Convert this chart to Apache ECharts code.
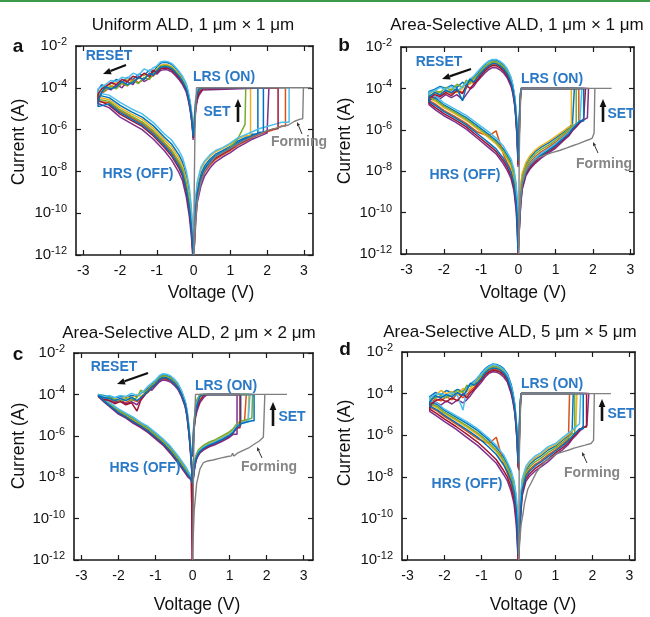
<!DOCTYPE html>
<html><head><meta charset="utf-8">
<script src="https://cdn.jsdelivr.net/npm/echarts@6/dist/echarts.min.js"></script>
<style>html,body{margin:0;padding:0;background:#fff}#c{width:650px;height:617px}</style>
</head><body><div id="c"></div>
<script>
// ---------------- DATA (voltages in V, currents as log10(I/A)) ----------------
const ticksX = [-3,-2,-1,0,1,2,3];
const compliance = -4; // log10(1e-4 A)
const palette = ['#0072BD','#D95319','#EDB120','#7E2F8E','#77AC30','#4DBEEE','#A2142F'];
const titles = ['Uniform ALD, 1 μm × 1 μm','Area-Selective ALD, 1 μm × 1 μm','Area-Selective ALD, 2 μm × 2 μm','Area-Selective ALD, 5 μm × 5 μm'];
const letters = ['a','b','c','d'];

// Panel a
const aResetV = [-0.01,-0.03,-0.06,-0.1,-0.15,-0.2,-0.3,-0.4,-0.5,-0.6,-0.7,-0.8,-0.9,-1.0,-1.1,-1.2,-1.35,-1.5,-1.65,-1.8,-1.95,-2.1,-2.25,-2.4,-2.5,-2.6];
const aReset = [
 [-6.2,-5.7,-5.15,-4.65,-4.2,-3.85,-3.5,-3.25,-3.05,-2.88,-2.8,-2.78,-2.82,-3.0,-3.25,-3.15,-3.4,-3.35,-3.6,-3.5,-3.75,-3.6,-3.8,-3.95,-3.85,-4.1],
 [-6.4,-5.9,-5.4,-4.9,-4.45,-4.1,-3.75,-3.5,-3.3,-3.13,-3.05,-3.03,-3.07,-3.25,-3.45,-3.3,-3.6,-3.75,-3.6,-3.9,-3.8,-4.0,-3.9,-4.15,-4.25,-4.5],
 [-6.3,-5.75,-5.25,-4.75,-4.3,-3.95,-3.6,-3.35,-3.15,-2.98,-2.9,-2.88,-2.92,-3.1,-3.3,-3.5,-3.35,-3.55,-3.75,-3.55,-3.85,-3.7,-3.95,-3.85,-4.05,-4.25],
 [-6.5,-6.0,-5.5,-5.0,-4.55,-4.2,-3.85,-3.6,-3.4,-3.23,-3.15,-3.13,-3.17,-3.35,-3.2,-3.55,-3.7,-3.45,-3.85,-3.7,-4.0,-3.85,-4.1,-4.0,-4.25,-4.55],
 [-6.3,-5.8,-5.3,-4.8,-4.35,-4.0,-3.65,-3.4,-3.2,-3.03,-2.95,-2.93,-2.97,-3.15,-3.35,-3.6,-3.5,-3.8,-3.65,-3.9,-3.75,-4.05,-3.95,-4.1,-4.2,-4.4],
 [-6.1,-5.6,-5.1,-4.6,-4.15,-3.8,-3.45,-3.2,-3.0,-2.83,-2.75,-2.73,-2.77,-2.95,-3.05,-3.2,-3.1,-3.4,-3.3,-3.55,-3.5,-3.7,-3.65,-3.85,-3.95,-4.05],
 [-6.4,-5.9,-5.4,-4.9,-4.45,-4.1,-3.77,-3.52,-3.32,-3.15,-3.07,-3.05,-3.09,-3.27,-3.15,-3.45,-3.3,-3.55,-3.45,-3.7,-3.6,-3.85,-3.75,-3.95,-4.05,-4.3],
 [-6.35,-5.85,-5.35,-4.85,-4.4,-4.05,-3.7,-3.45,-3.25,-3.08,-3.0,-2.98,-3.02,-3.2,-3.4,-3.3,-3.6,-3.5,-3.75,-3.85,-3.7,-3.95,-4.05,-3.95,-4.2,-4.65]
];
const aHrsV = [-2.6,-2.3,-2.0,-1.7,-1.4,-1.1,-0.8,-0.6,-0.4,-0.3,-0.2,-0.12,-0.06,-0.03,-0.01];
const aHrs = [
 [-4.35,-4.47,-4.84,-5.14,-5.4,-5.81,-6.36,-6.69,-7.21,-7.57,-8.2,-8.98,-9.98,-10.94,-12],
 [-4.65,-4.71,-5.12,-5.42,-5.7,-6.13,-6.68,-7.07,-7.63,-8.01,-8.7,-9.54,-10.54,-11.42,-12],
 [-4.45,-4.56,-4.95,-5.25,-5.51,-5.93,-6.48,-6.83,-7.37,-7.74,-8.39,-9.19,-10.19,-11.12,-12],
 [-4.75,-4.95,-5.4,-5.7,-6.0,-6.45,-7.0,-7.45,-8.05,-8.45,-9.2,-10.1,-11.1,-11.9,-12],
 [-4.55,-4.65,-5.05,-5.35,-5.63,-6.05,-6.6,-6.98,-7.53,-7.9,-8.58,-9.4,-10.4,-11.3,-12],
 [-4.25,-4.35,-4.7,-5.0,-5.25,-5.65,-6.2,-6.5,-7.0,-7.35,-7.95,-8.7,-9.7,-10.7,-12],
 [-4.6,-4.83,-5.26,-5.56,-5.85,-6.29,-6.84,-7.26,-7.84,-8.23,-8.95,-9.82,-10.82,-11.66,-12],
 [-4.9,-4.77,-5.19,-5.49,-5.78,-6.21,-6.76,-7.17,-7.74,-8.12,-8.83,-9.68,-10.68,-11.54,-12]
];
const aSetV = [0.01,0.03,0.06,0.1,0.2,0.3,0.45,0.6,0.8,1.0,1.2,1.4,1.6,1.8,2.0,2.2,2.4];
const aSet = [
 [-12,-10.48,-9.59,-8.83,-8.1,-7.74,-7.41,-7.18,-7.0,-6.8,-6.55,-6.39,-6.22],
 [-12,-11.12,-10.11,-9.27,-8.5,-8.06,-7.69,-7.42,-7.2,-7.0,-6.75,-6.57,-6.38,-6.23,-6.1,-6.0,-5.83],
 [-12,-10.16,-9.33,-8.61,-7.9,-7.58,-7.27,-7.06,-6.9,-6.7,-6.45,-6.3],
 [-12,-11.44,-10.37,-9.49,-8.7,-8.22,-7.83,-7.54,-7.3,-7.1,-6.85,-6.66,-6.46,-6.31,-6.17],
 [-12,-10.8,-9.85,-9.05,-8.3,-7.9,-7.55,-7.3,-7.1,-6.85,-6.45,-5.75],
 [-12,-10.0,-9.2,-8.5,-7.8,-7.5,-7.2,-7.0,-6.85,-6.65,-6.4,-6.25,-6.1,-5.95,-5.85,-5.75,-5.65],
 [-12,-10.96,-9.98,-9.16,-8.4,-7.98,-7.62,-7.36,-7.15,-6.95,-6.7,-6.52,-6.34,-6.19,-6.06,-5.96],
 [-12,-10.72,-9.79,-9.0,-8.25,-7.86,-7.52,-7.27,-7.08,-6.88,-6.63,-6.45,-6.28,-6.13]
];
const aVset = [1.75,2.5,1.55,2.05,1.42,2.6,2.3,1.9];
const aLrsV = [0.25,0.15,0.1,0.06,0.03,0.01];
const aLrs = [
 [-4.0,-4.0,-4.2,-4.65,-5.3,-6.2],[-4.0,-4.15,-4.45,-4.9,-5.5,-6.3],[-4.0,-4.0,-4.05,-4.45,-5.15,-6.1],[-4.1,-4.35,-4.6,-5.0,-5.6,-6.4],
 [-4.0,-4.1,-4.35,-4.8,-5.4,-6.25],[-4.0,-4.0,-4.1,-4.55,-5.2,-6.15],[-4.05,-4.25,-4.5,-4.95,-5.55,-6.35],[-4.0,-4.05,-4.3,-4.7,-5.35,-6.2]
];
const aFormV = [0.01,0.03,0.06,0.1,0.2,0.3,0.45,0.6,0.8,1.0,1.2,1.4,1.6,1.8,2.0,2.2,2.4,2.58,2.75,2.9,2.97,2.99,3.2,0.08,0.04,0.02,0.005];
const aFormI = [-12,-11.2,-10.3,-9.4,-8.5,-8.0,-7.6,-7.3,-7.1,-6.9,-6.7,-6.5,-6.35,-6.2,-6.05,-5.95,-5.85,-5.78,-5.6,-5.5,-5.48,-4.0,-4.0,-4.0,-5.8,-8.5,-12];

// Panel b
const bResetV = [-0.01,-0.02,-0.04,-0.07,-0.1,-0.15,-0.2,-0.3,-0.4,-0.5,-0.6,-0.7,-0.8,-0.9,-1.0,-1.1,-1.2,-1.3,-1.4,-1.5,-1.65,-1.8,-1.95,-2.1,-2.25,-2.4];
const bReset = [
 [-7.2,-6.6,-5.7,-4.95,-4.4,-3.85,-3.5,-3.1,-2.87,-2.72,-2.63,-2.62,-2.7,-2.85,-3.05,-3.3,-3.45,-3.6,-3.85,-3.7,-3.95,-3.85,-4.0,-3.9,-4.05,-4.15],
 [-7.6,-7.0,-6.1,-5.3,-4.7,-4.1,-3.75,-3.35,-3.1,-2.95,-2.85,-2.85,-2.95,-3.1,-3.3,-3.55,-3.75,-3.65,-4.0,-4.2,-4.05,-4.25,-4.1,-4.35,-4.2,-4.45],
 [-7.5,-6.9,-6.0,-5.2,-4.6,-4.0,-3.65,-3.25,-3.0,-2.85,-2.76,-2.76,-2.85,-3.0,-3.2,-3.4,-3.6,-3.8,-3.7,-4.0,-4.2,-4.0,-4.3,-4.15,-4.25,-4.35],
 [-7.8,-7.2,-6.3,-5.45,-4.85,-4.25,-3.9,-3.5,-3.25,-3.1,-3.0,-3.0,-3.1,-3.25,-3.45,-3.65,-3.9,-4.05,-4.3,-4.55,-4.3,-4.45,-4.3,-4.5,-4.4,-4.6],
 [-7.4,-6.8,-5.9,-5.15,-4.55,-3.95,-3.6,-3.2,-2.95,-2.8,-2.71,-2.7,-2.8,-2.95,-3.15,-3.35,-3.5,-3.75,-3.6,-3.95,-3.8,-4.1,-3.95,-4.2,-4.1,-4.25],
 [-7.3,-6.7,-5.8,-5.0,-4.45,-3.85,-3.45,-3.05,-2.82,-2.68,-2.6,-2.6,-2.68,-2.82,-3.0,-3.2,-3.4,-3.55,-3.75,-3.9,-4.15,-3.9,-4.05,-3.95,-4.1,-4.2],
 [-7.7,-7.1,-6.2,-5.35,-4.75,-4.15,-3.8,-3.4,-3.15,-3.0,-2.9,-2.9,-3.0,-3.15,-3.35,-3.6,-3.8,-4.0,-3.85,-4.25,-4.1,-4.35,-4.2,-4.4,-4.3,-4.5],
 [-7.5,-6.95,-6.05,-5.25,-4.65,-4.05,-3.7,-3.3,-3.05,-2.9,-2.8,-2.8,-2.9,-3.05,-3.25,-3.45,-3.7,-3.55,-3.9,-4.6,-4.0,-4.2,-4.1,-4.3,-4.2,-4.4]
];
const bHrsV = [-2.4,-2.2,-2.0,-1.7,-1.4,-1.1,-0.8,-0.6,-0.4,-0.3,-0.2,-0.12,-0.06,-0.03,-0.01];
const bHrs = [
 [-4.38,-4.51,-4.8,-5.1,-5.41,-5.81,-6.22,-6.52,-6.94,-7.24,-7.55,-8.07,-8.81,-9.73,-11.6],
 [-4.58,-4.79,-5.06,-5.36,-5.69,-6.11,-6.3,-6.05,-7.2,-7.6,-7.95,-8.5,-9.37,-10.33,-11.8],
 [-4.48,-4.65,-4.93,-5.23,-5.55,-5.96,-6.38,-6.68,-7.12,-7.42,-7.75,-8.29,-9.09,-10.03,-11.7],
 [-4.78,-5.07,-5.32,-5.62,-5.97,-6.41,-6.86,-7.16,-7.66,-7.96,-8.35,-8.95,-9.93,-10.93,-12],
 [-4.43,-4.58,-4.86,-5.16,-5.48,-5.89,-6.3,-6.6,-7.03,-7.33,-7.65,-8.18,-8.95,-9.88,-11.6],
 [-4.3,-4.4,-4.7,-5.0,-5.3,-5.7,-6.1,-6.4,-6.8,-7.1,-7.4,-7.9,-8.6,-9.5,-11.5],
 [-4.7,-4.96,-5.22,-5.52,-5.86,-6.3,-6.74,-7.04,-7.52,-7.82,-8.2,-8.78,-9.72,-10.7,-12],
 [-4.63,-4.86,-5.12,-5.42,-5.76,-6.19,-6.62,-6.92,-7.39,-7.69,-8.05,-8.62,-9.51,-10.48,-11.9]
];
const bSetV = [0.01,0.03,0.06,0.1,0.2,0.3,0.45,0.6,0.8,1.0,1.2,1.35,1.45,1.55,1.65,1.75,1.85];
const bSet = [
 [-11.6,-9.76,-8.84,-8.2,-7.66,-7.36,-7.06,-6.85,-6.64,-6.39,-6.12,-5.91,-5.7],
 [-11.8,-10.15,-9.2,-8.5,-7.9,-7.6,-7.3,-7.08,-6.85,-6.6,-6.3,-6.08,-5.85,-5.68],
 [-11.5,-9.63,-8.72,-8.1,-7.58,-7.28,-6.98,-6.78,-6.57,-6.32,-6.06,-5.86],
 [-12,-10.67,-9.68,-8.9,-8.22,-7.92,-7.62,-7.38,-7.13,-6.88,-6.54,-6.3,-6.05,-5.86,-5.66,-5.52,-5.42],
 [-11.7,-9.96,-9.02,-8.35,-7.78,-7.48,-7.18,-6.96,-6.75,-6.5,-6.21,-5.99,-5.78],
 [-11.8,-10.28,-9.32,-8.6,-7.98,-7.68,-7.38,-7.15,-6.92,-6.67,-6.36,-6.13,-5.9,-5.72,-5.54],
 [-12,-10.54,-9.56,-8.8,-8.14,-7.84,-7.54,-7.3,-7.06,-6.81,-6.48,-6.24,-6.0,-5.81,-5.62,-5.48],
 [-11.9,-10.41,-9.44,-8.7,-8.06,-7.76,-7.46,-7.23,-6.99,-6.74,-6.42,-6.19,-5.95,-5.77,-5.58]
];
const bVset = [1.5,1.62,1.42,1.88,1.55,1.7,1.8,1.75];
const bLrsV = [0.07,0.05,0.03,0.02,0.01];
const bLrs = [
 [-4.0,-4.4,-5.2,-6.0,-7.0],[-4.0,-4.5,-5.4,-6.3,-7.4],[-4.0,-4.6,-5.6,-6.6,-7.6],[-4.0,-4.5,-5.5,-6.4,-7.5],
 [-4.0,-4.4,-5.3,-6.2,-7.2],[-4.0,-4.3,-5.1,-5.9,-6.9],[-4.0,-4.6,-5.5,-6.5,-7.7],[-4.0,-4.5,-5.4,-6.3,-7.3]
];
const bFormV = [0.01,0.03,0.06,0.1,0.2,0.3,0.45,0.6,0.75,0.9,1.1,1.3,1.45,1.6,1.75,1.9,1.98,2.03,2.05,2.5,0.07,0.04,0.02,0.005];
const bFormI = [-12,-10.3,-9.3,-8.6,-8.0,-7.7,-7.45,-7.3,-7.2,-7.1,-7.0,-6.87,-6.77,-6.68,-6.57,-6.47,-6.4,-6.15,-4.0,-4.0,-4.0,-5.5,-7.5,-12];

// Panel c
const cResetV = [-0.01,-0.02,-0.04,-0.07,-0.1,-0.15,-0.2,-0.3,-0.4,-0.5,-0.6,-0.7,-0.8,-0.9,-1.0,-1.1,-1.2,-1.3,-1.4,-1.5,-1.65,-1.8,-1.95,-2.1,-2.25,-2.4,-2.55];
const cReset = [
 [-7.9,-7.5,-6.9,-6.2,-5.6,-4.8,-4.35,-3.85,-3.5,-3.3,-3.15,-3.08,-3.05,-3.15,-3.35,-3.5,-3.7,-3.85,-3.95,-4.1,-4.05,-4.15,-4.1,-4.2,-4.1,-4.05,-4.0],
 [-8.1,-7.7,-7.1,-6.4,-5.8,-5.0,-4.55,-4.05,-3.7,-3.5,-3.35,-3.28,-3.25,-3.35,-3.55,-3.7,-3.9,-4.0,-4.2,-4.35,-4.25,-4.4,-4.3,-4.35,-4.25,-4.15,-4.05],
 [-8.0,-7.6,-7.0,-6.3,-5.7,-4.9,-4.45,-3.95,-3.6,-3.4,-3.25,-3.18,-3.15,-3.25,-3.45,-3.6,-3.8,-3.95,-4.1,-4.0,-4.2,-4.1,-4.3,-4.2,-4.25,-4.1,-4.02],
 [-8.2,-7.8,-7.2,-6.5,-5.9,-5.1,-4.6,-4.1,-3.75,-3.55,-3.4,-3.33,-3.3,-3.4,-3.6,-3.8,-3.7,-4.05,-4.25,-4.5,-4.35,-4.45,-4.3,-4.4,-4.3,-4.2,-4.08],
 [-7.9,-7.5,-6.95,-6.25,-5.65,-4.85,-4.4,-3.9,-3.55,-3.35,-3.2,-3.12,-3.1,-3.2,-3.4,-3.55,-3.75,-3.9,-3.8,-4.15,-4.3,-4.2,-4.35,-4.25,-4.15,-4.1,-4.02],
 [-7.8,-7.4,-6.8,-6.1,-5.5,-4.75,-4.3,-3.8,-3.45,-3.25,-3.1,-3.03,-3.0,-3.1,-3.3,-3.45,-3.6,-3.8,-3.95,-4.05,-3.95,-4.1,-4.05,-4.15,-4.05,-4.1,-4.0],
 [-8.1,-7.7,-7.1,-6.4,-5.8,-5.0,-4.5,-4.0,-3.65,-3.45,-3.3,-3.23,-3.2,-3.3,-3.5,-3.65,-3.85,-4.05,-4.3,-4.8,-4.4,-4.5,-4.35,-4.45,-4.3,-4.25,-4.1],
 [-8.0,-7.6,-7.0,-6.35,-5.75,-4.95,-4.5,-4.0,-3.65,-3.45,-3.3,-3.2,-3.18,-3.28,-3.5,-3.65,-3.85,-4.0,-4.15,-4.3,-4.15,-4.3,-4.2,-4.3,-4.2,-4.15,-4.05]
];
const cHrsV = [-2.55,-2.4,-2.2,-2.0,-1.8,-1.6,-1.4,-1.2,-1.0,-0.8,-0.6,-0.4,-0.3,-0.2,-0.12,-0.06,-0.03,-0.005];
const cHrs = [
 [-4.02,-4.23,-4.49,-4.75,-4.95,-5.16,-5.4,-5.61,-5.91,-6.21,-6.57,-7.02,-7.27,-7.52,-7.76,-7.94,-8.04,-8.3],
 [-4.06,-4.29,-4.57,-4.85,-5.05,-5.28,-5.5,-5.73,-6.03,-6.33,-6.71,-7.16,-7.41,-7.66,-7.88,-8.02,-8.12,-12],
 [-4.04,-4.26,-4.53,-4.8,-5.0,-5.22,-5.45,-5.67,-5.97,-6.27,-6.64,-7.09,-7.34,-7.59,-7.82,-7.98,-8.08,-8.3],
 [-4.1,-4.35,-4.65,-4.95,-5.15,-5.4,-5.6,-5.85,-6.15,-6.45,-6.85,-7.3,-7.55,-7.8,-8.0,-8.1,-8.2,-12],
 [-4.03,-4.25,-4.51,-4.78,-4.98,-5.19,-5.43,-5.64,-5.94,-6.24,-6.61,-7.06,-7.31,-7.56,-7.79,-7.96,-8.06,-8.3],
 [-4.0,-4.2,-4.45,-4.7,-4.9,-5.1,-5.35,-5.55,-5.85,-6.15,-6.5,-6.95,-7.2,-7.45,-7.7,-7.9,-8.0,-8.25],
 [-4.08,-4.32,-4.61,-4.9,-5.1,-5.34,-5.55,-5.79,-6.09,-6.39,-6.78,-7.23,-7.48,-7.73,-7.94,-8.06,-8.16,-12],
 [-4.07,-4.31,-4.59,-4.88,-5.08,-5.31,-5.53,-5.76,-6.06,-6.36,-6.75,-7.2,-7.45,-7.7,-7.91,-8.04,-8.14,-8.3]
];
const cSetV = [0.005,0.02,0.04,0.07,0.1,0.15,0.2,0.3,0.45,0.6,0.8,1.0,1.1,1.2,1.3,1.4,1.5,1.6];
const cSet = [
 [-8.2,-7.93,-7.59,-7.2,-6.99,-6.79,-6.68,-6.53,-6.38,-6.28,-6.09,-5.89,-5.74,-5.49],
 [-8.2,-7.98,-7.65,-7.28,-7.05,-6.85,-6.73,-6.58,-6.43,-6.33,-6.15,-5.95,-5.8,-5.55,-5.4,-5.35],
 [-8.2,-7.9,-7.56,-7.17,-6.96,-6.76,-6.65,-6.5,-6.35,-6.25,-6.06,-5.86,-5.71,-5.46,-5.34,-5.29,-5.24],
 [-8.2,-8.08,-7.77,-7.42,-7.17,-6.97,-6.83,-6.68,-6.53,-6.43,-6.27,-6.07,-5.92],
 [-8.2,-7.85,-7.5,-7.1,-6.9,-6.7,-6.6,-6.45,-6.3,-6.2,-6.0,-5.8,-5.65,-5.4,-5.3,-5.25,-5.2,-5.15],
 [-8.2,-7.95,-7.62,-7.24,-7.02,-6.82,-6.7,-6.55,-6.4,-6.3,-6.12,-5.92,-5.77,-5.52,-5.38,-5.33,-5.28],
 [-8.2,-8.03,-7.71,-7.35,-7.11,-6.91,-6.78,-6.63,-6.48,-6.38,-6.21,-6.01,-5.86,-5.61],
 [-8.2,-8.0,-7.68,-7.31,-7.08,-6.88,-6.75,-6.6,-6.45,-6.35,-6.18,-5.98,-5.83,-5.58,-5.42,-5.37,-5.32,-5.27]
];
const cVset = [1.3,1.45,1.52,1.2,1.62,1.55,1.28,1.66];
const cLrsV = [0.4,0.3,0.2,0.12,0.07,0.03,0.01];
const cLrs = [
 [-4.0,-4.0,-4.1,-4.45,-4.95,-5.7,-6.9],[-4.0,-4.0,-4.0,-4.3,-4.8,-5.6,-6.8],[-4.0,-4.0,-4.2,-4.55,-5.05,-5.8,-7.0],[-4.0,-4.15,-4.4,-4.8,-5.2,-5.9,-7.0],
 [-4.0,-4.0,-4.0,-4.25,-4.75,-5.55,-6.8],[-4.0,-4.0,-4.05,-4.4,-4.9,-5.65,-6.9],[-4.0,-4.05,-4.3,-4.65,-5.1,-5.85,-7.0],[-4.0,-4.0,-4.1,-4.5,-5.0,-5.75,-6.95]
];
const cFormV = [0.005,0.045,0.11,0.2,0.29,0.4,0.55,0.75,0.95,1.05,1.08,1.12,1.2,1.35,1.5,1.65,1.8,1.91,1.95,2.55,0.08,0.04,0.02,0.005];
const cFormI = [-11.5,-9.6,-8.3,-7.6,-7.3,-7.22,-7.17,-7.08,-7.0,-6.97,-6.85,-6.98,-6.85,-6.72,-6.6,-6.42,-6.25,-6.07,-4.0,-4.0,-4.0,-5.8,-8.5,-12];

// Panel d
const dResetV = [-0.01,-0.02,-0.04,-0.07,-0.1,-0.15,-0.2,-0.3,-0.4,-0.5,-0.6,-0.7,-0.8,-0.9,-1.0,-1.1,-1.2,-1.3,-1.4,-1.5,-1.65,-1.8,-1.95,-2.1,-2.25,-2.4];
const dReset = [
 [-7.1,-6.6,-5.8,-5.1,-4.5,-3.95,-3.55,-3.05,-2.8,-2.67,-2.6,-2.58,-2.67,-2.8,-3.0,-3.25,-3.4,-3.55,-3.7,-3.9,-3.8,-3.95,-3.85,-4.05,-3.95,-4.15],
 [-7.4,-6.9,-6.1,-5.4,-4.8,-4.25,-3.85,-3.3,-3.05,-2.92,-2.85,-2.83,-2.92,-3.05,-3.3,-3.5,-3.7,-3.85,-4.05,-4.2,-4.0,-4.3,-4.15,-4.35,-4.25,-4.5],
 [-7.3,-6.8,-6.0,-5.3,-4.7,-4.15,-3.75,-3.2,-2.95,-2.8,-2.73,-2.72,-2.8,-2.95,-3.2,-3.35,-3.55,-3.75,-3.9,-3.75,-4.05,-3.9,-4.0,-3.85,-4.1,-4.3],
 [-7.6,-7.1,-6.3,-5.55,-4.95,-4.4,-4.0,-3.45,-3.2,-3.05,-2.97,-2.95,-3.03,-3.2,-3.45,-3.65,-3.85,-4.1,-4.3,-4.45,-4.3,-4.5,-4.35,-4.55,-4.4,-4.65],
 [-7.25,-6.75,-5.95,-5.25,-4.65,-4.1,-3.7,-3.15,-2.9,-2.76,-2.68,-2.66,-2.75,-2.9,-3.1,-3.3,-3.5,-3.65,-3.6,-3.95,-3.85,-4.05,-4.2,-4.1,-4.2,-4.25],
 [-7.2,-6.7,-5.9,-5.2,-4.6,-4.05,-3.65,-3.1,-2.85,-2.71,-2.63,-2.6,-2.7,-2.85,-3.05,-3.2,-3.45,-3.6,-3.75,-4.8,-4.1,-3.95,-4.1,-4.0,-4.05,-4.2],
 [-7.5,-7.0,-6.2,-5.45,-4.85,-4.3,-3.9,-3.35,-3.1,-2.97,-2.9,-2.88,-2.97,-3.1,-3.35,-3.55,-3.8,-3.95,-4.2,-4.0,-4.35,-4.2,-4.4,-4.25,-4.35,-4.55],
 [-7.35,-6.85,-6.05,-5.35,-4.75,-4.2,-3.8,-3.25,-3.0,-2.86,-2.78,-2.77,-2.85,-3.0,-3.25,-3.45,-3.6,-3.5,-3.85,-4.1,-3.95,-4.15,-4.05,-4.2,-4.1,-4.4]
];
const dHrsV = [-2.4,-2.2,-2.0,-1.7,-1.4,-1.1,-0.8,-0.6,-0.4,-0.3,-0.2,-0.12,-0.06,-0.03,-0.01];
const dHrs = [
 [-4.4,-4.52,-4.81,-5.12,-5.43,-5.78,-6.24,-6.59,-7.05,-7.39,-7.8,-8.31,-9.04,-9.95,-11.55],
 [-4.65,-4.84,-5.11,-5.44,-5.8,-6.18,-6.4,-6.1,-7.4,-7.84,-8.3,-8.86,-9.74,-10.7,-11.8],
 [-4.53,-4.68,-4.96,-5.28,-5.61,-5.98,-6.45,-6.8,-7.28,-7.62,-8.05,-8.59,-9.39,-10.33,-11.7],
 [-4.85,-5.1,-5.35,-5.7,-6.1,-6.5,-7.0,-7.35,-7.9,-8.2,-8.7,-9.3,-10.3,-11.3,-12],
 [-4.48,-4.61,-4.9,-5.21,-5.54,-5.9,-6.36,-6.71,-7.19,-7.53,-7.95,-8.48,-9.25,-10.18,-11.6],
 [-4.35,-4.45,-4.75,-5.05,-5.35,-5.7,-6.15,-6.5,-6.95,-7.3,-7.7,-8.2,-8.9,-9.8,-11.5],
 [-4.75,-4.97,-5.23,-5.57,-5.95,-6.34,-6.83,-7.18,-7.71,-8.02,-8.5,-9.08,-10.02,-11.0,-12],
 [-4.6,-4.78,-5.05,-5.38,-5.73,-6.1,-6.58,-6.93,-7.43,-7.75,-8.2,-8.75,-9.6,-10.55,-11.75]
];
const dSetV = [0.01,0.03,0.06,0.1,0.2,0.3,0.45,0.6,0.8,1.0,1.2,1.35,1.45,1.55,1.65,1.75,1.85];
const dSet = [
 [-11.6,-10.04,-9.12,-8.28,-7.66,-7.41,-7.16,-7.0,-6.71,-6.52,-6.23,-6.02,-5.85],
 [-11.8,-10.4,-9.45,-8.55,-7.9,-7.65,-7.4,-7.23,-6.95,-6.7,-6.43,-6.2],
 [-11.5,-9.92,-9.01,-8.19,-7.58,-7.33,-7.08,-6.93,-6.63,-6.46,-6.17,-5.96,-5.8,-5.65],
 [-12,-10.88,-9.89,-8.91,-8.22,-7.97,-7.72,-7.53,-7.27,-6.94,-6.69,-6.44,-6.2,-6.01,-5.81,-5.66,-5.52],
 [-11.7,-10.22,-9.29,-8.42,-7.78,-7.53,-7.28,-7.11,-6.83,-6.61,-6.33,-6.11,-5.93],
 [-11.5,-9.8,-8.9,-8.1,-7.5,-7.25,-7.0,-6.85,-6.55,-6.4,-6.1,-5.9,-5.75,-5.6,-5.45],
 [-11.9,-10.7,-9.73,-8.78,-8.1,-7.85,-7.6,-7.41,-7.15,-6.85,-6.59,-6.35,-6.13,-5.94,-5.75,-5.6],
 [-11.8,-10.52,-9.56,-8.64,-7.98,-7.73,-7.48,-7.3,-7.03,-6.76,-6.49,-6.26,-6.05,-5.87,-5.69]
];
const dVset = [1.48,1.38,1.58,1.9,1.52,1.68,1.84,1.75];
const dLrsV = [0.07,0.05,0.03,0.02,0.01];
const dLrs = [
 [-4.0,-4.4,-5.2,-6.0,-7.0],[-4.0,-4.5,-5.4,-6.3,-7.3],[-4.0,-4.6,-5.6,-6.6,-7.6],[-4.0,-4.5,-5.5,-6.4,-7.5],
 [-4.0,-4.4,-5.3,-6.2,-7.2],[-4.0,-4.3,-5.1,-5.9,-6.9],[-4.0,-4.6,-5.5,-6.5,-7.7],[-4.0,-4.5,-5.4,-6.3,-7.3]
];
const dFormV = [0.005,0.03,0.07,0.12,0.16,0.25,0.34,0.48,0.6,0.75,0.9,1.02,1.2,1.38,1.5,1.65,1.8,1.96,2.03,2.05,2.5,0.07,0.04,0.02,0.005];
const dFormI = [-12,-11.2,-10.3,-9.8,-9.3,-8.6,-8.3,-7.8,-7.5,-7.2,-7.05,-6.9,-6.8,-6.7,-6.62,-6.55,-6.48,-6.4,-6.25,-4.0,-4.0,-4.0,-5.5,-7.3,-12];

// ---------------- BUILD ----------------
const panels = [
 {resetV:aResetV,reset:aReset,hrsV:aHrsV,hrs:aHrs,setV:aSetV,set:aSet,vset:aVset,lrsV:aLrsV,lrs:aLrs,formV:aFormV,formI:aFormI},
 {resetV:bResetV,reset:bReset,hrsV:bHrsV,hrs:bHrs,setV:bSetV,set:bSet,vset:bVset,lrsV:bLrsV,lrs:bLrs,formV:bFormV,formI:bFormI},
 {resetV:cResetV,reset:cReset,hrsV:cHrsV,hrs:cHrs,setV:cSetV,set:cSet,vset:cVset,lrsV:cLrsV,lrs:cLrs,formV:cFormV,formI:cFormI},
 {resetV:dResetV,reset:dReset,hrsV:dHrsV,hrs:dHrs,setV:dSetV,set:dSet,vset:dVset,lrsV:dLrsV,lrs:dLrs,formV:dFormV,formI:dFormI}
];
const layout = [
 {left:76,top:46,width:237,height:209,xr:[-3.2,3.25]},
 {left:401,top:47,width:233,height:207,xr:[-3.15,3.1]},
 {left:74,top:353,width:239,height:207,xr:[-3.2,3.25]},
 {left:402,top:352,width:233,height:208,xr:[-3.15,3.15]}
];
const FF = '"Liberation Sans", Arial, Helvetica, sans-serif';

function cyclePoints(p,k){
  const pts=[];
  p.resetV.forEach((v,i)=>pts.push([v,p.reset[k][i]]));
  p.hrsV.forEach((v,i)=>pts.push([v,p.hrs[k][i]]));
  const s=p.set[k];
  s.forEach((y,i)=>pts.push([p.setV[i],y]));
  pts.push([p.vset[k],s[s.length-1]]);
  pts.push([p.vset[k],compliance]);
  p.lrsV.forEach((v,i)=>pts.push([v,p.lrs[k][i]]));
  return pts;
}

const grid=[],xAxis=[],yAxis=[],series=[];
const axLine={show:true,onZero:false,lineStyle:{color:'#1a1a1a',width:1.6}};
layout.forEach((L,pi)=>{
  grid.push({left:L.left,top:L.top,width:L.width,height:L.height,containLabel:false,outerBoundsMode:'none'});
  xAxis.push({gridIndex:pi,type:'value',min:L.xr[0],max:L.xr[1],position:'bottom',axisLine:axLine,
    axisTick:{show:true,inside:true,length:5,customValues:ticksX,lineStyle:{color:'#1a1a1a',width:1.2}},
    axisLabel:{show:true,customValues:ticksX,fontSize:14,color:'#111',fontFamily:FF,margin:9},
    splitLine:{show:false}});
  xAxis.push({gridIndex:pi,type:'value',min:L.xr[0],max:L.xr[1],position:'top',axisLine:axLine,
    axisTick:{show:true,inside:true,length:5,customValues:ticksX,lineStyle:{color:'#1a1a1a',width:1.2}},
    axisLabel:{show:false},splitLine:{show:false}});
  yAxis.push({gridIndex:pi,type:'value',min:-12,max:-2,interval:2,position:'left',axisLine:axLine,
    axisTick:{show:true,inside:true,length:5,lineStyle:{color:'#1a1a1a',width:1.2}},
    axisLabel:{show:true,margin:9,formatter:v=>'{b|10}{s|'+v+'}',
      rich:{b:{fontSize:15,fontFamily:FF,color:'#111',lineHeight:19},s:{fontSize:11,fontFamily:FF,color:'#111',verticalAlign:'top',lineHeight:12}}},
    splitLine:{show:false}});
  yAxis.push({gridIndex:pi,type:'value',min:-12,max:-2,interval:2,position:'right',axisLine:axLine,
    axisTick:{show:true,inside:true,length:5,lineStyle:{color:'#1a1a1a',width:1.2}},
    axisLabel:{show:false},splitLine:{show:false}});
  const p=panels[pi];
  p.reset.forEach((_,k)=>{
    series.push({type:'line',xAxisIndex:2*pi,yAxisIndex:2*pi,data:cyclePoints(p,k),symbol:'none',showSymbol:false,
      lineStyle:{color:palette[k%7],width:1.5},silent:true,clip:true,z:2});
  });
  series.push({type:'line',xAxisIndex:2*pi,yAxisIndex:2*pi,data:p.formV.map((v,i)=>[v,p.formI[i]]),symbol:'none',showSymbol:false,
    lineStyle:{color:'#808080',width:1.4},silent:true,clip:true,z:3});
});

// ---------------- ANNOTATIONS ----------------
const BLUE='#2A79C6', GRAY='#868686';
function txt(x,y,text,font,fill,rot){
  return {type:'text',x:x,y:y,rotation:rot||0,silent:true,z:10,
    style:{text:text,x:0,y:0,font:font,fill:fill,align:'center',verticalAlign:'middle',textAlign:'center',textVerticalAlign:'middle'}};
}
function arrow(x1,y1,x2,y2,w,head,color){
  const a=Math.atan2(y2-y1,x2-x1);
  const bx=x2-head*Math.cos(a), by=y2-head*Math.sin(a);
  const px=-Math.sin(a)*head*0.42, py=Math.cos(a)*head*0.42;
  return [{type:'line',silent:true,z:10,shape:{x1:x1,y1:y1,x2:bx,y2:by},style:{stroke:color,lineWidth:w}},
          {type:'polygon',silent:true,z:10,shape:{points:[[x2,y2],[bx+px,by+py],[bx-px,by-py]]},style:{fill:color}}];
}
const fTitle='17px '+FF, fLetter='bold 19px '+FF, fAnn='bold 14px '+FF, fName='17.5px '+FF;
let g=[{type:'rect',shape:{x:0,y:0,width:650,height:2},style:{fill:'#3C9A48'},silent:true}];
[[193,25],[517,25],[189,333],[510,332]].forEach((c,i)=>g.push(txt(c[0],c[1],titles[i],fTitle,'#111')));
[[18,47],[344,46],[18,355],[345,350]].forEach((c,i)=>g.push(txt(c[0],c[1],letters[i],fLetter,'#111')));
[[19,142],[345,141],[19,446],[345,443]].forEach(c=>g.push(txt(c[0],c[1],'Current (A)',fName,'#111',Math.PI/2)));
[[211,293],[523,293],[197,605],[533,605]].forEach(c=>g.push(txt(c[0],c[1],'Voltage (V)',fName,'#111')));
// panel a
g.push(txt(109,56,'RESET',fAnn,BLUE)); g=g.concat(arrow(126,65,103,74,2.2,8,'#111'));
g.push(txt(224,77,'LRS (ON)',fAnn,BLUE));
g.push(txt(217,112,'SET',fAnn,BLUE)); g=g.concat(arrow(238,122,238,99,2.6,8,'#111'));
g.push(txt(138,174,'HRS (OFF)',fAnn,BLUE));
g.push(txt(299,142,'Forming',fAnn,GRAY)); g=g.concat(arrow(302,134,297,122,1,4,'#333'));
// panel b
g.push(txt(439,62,'RESET',fAnn,BLUE)); g=g.concat(arrow(471,69,442,79,2.2,8,'#111'));
g.push(txt(552,79,'LRS (ON)',fAnn,BLUE));
g.push(txt(621,114,'SET',fAnn,BLUE)); g=g.concat(arrow(603,122,603,99,2.6,8,'#111'));
g.push(txt(465,175,'HRS (OFF)',fAnn,BLUE));
g.push(txt(604,164,'Forming',fAnn,GRAY)); g=g.concat(arrow(598,153,593,142,1,4,'#333'));
// panel c
g.push(txt(114,367,'RESET',fAnn,BLUE)); g=g.concat(arrow(148,373,117,384,2.2,8,'#111'));
g.push(txt(226,386,'LRS (ON)',fAnn,BLUE));
g.push(txt(292,417,'SET',fAnn,BLUE)); g=g.concat(arrow(273,426,273,402,2.6,8,'#111'));
g.push(txt(145,468,'HRS (OFF)',fAnn,BLUE));
g.push(txt(269,467,'Forming',fAnn,GRAY)); g=g.concat(arrow(262,458,257,447,1,4,'#333'));
// panel d
g.push(txt(552,384,'LRS (ON)',fAnn,BLUE));
g.push(txt(621,414,'SET',fAnn,BLUE)); g=g.concat(arrow(602,421,602,399,2.6,8,'#111'));
g.push(txt(467,484,'HRS (OFF)',fAnn,BLUE));
g.push(txt(592,473,'Forming',fAnn,GRAY)); g=g.concat(arrow(587,463,582,452,1,4,'#333'));

const chart=echarts.init(document.getElementById('c'),null,{renderer:'canvas'});
chart.setOption({animation:false,backgroundColor:'#fff',grid:grid,xAxis:xAxis,yAxis:yAxis,series:series,graphic:g});
</script></body></html>
